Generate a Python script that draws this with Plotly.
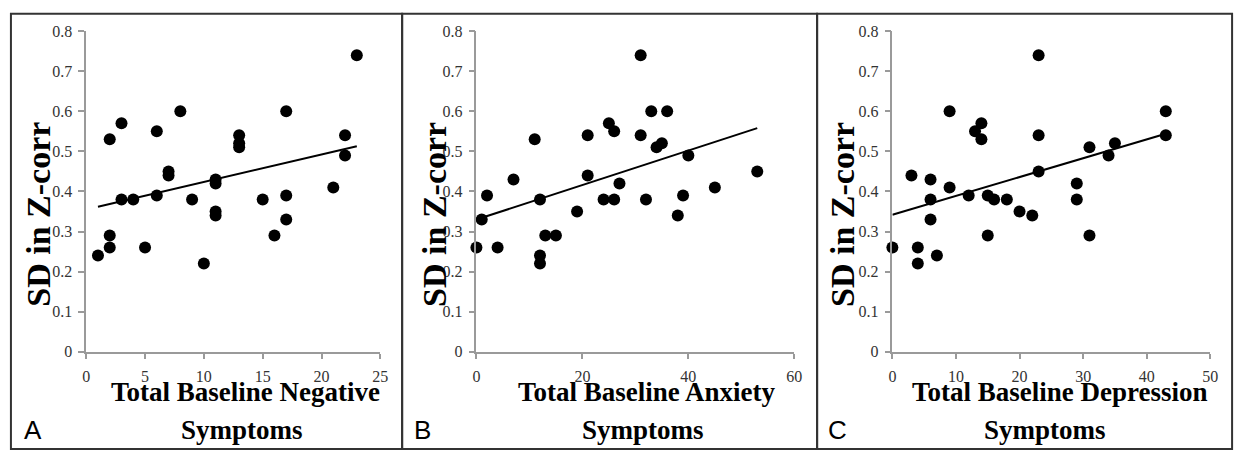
import plotly.graph_objects as go

# ---------------- data ----------------
neg_x = [1, 2, 2, 2, 3, 3, 4, 5, 6, 6, 7, 7, 8, 9, 10, 11, 11, 11, 11, 13, 13, 13, 15, 16, 17, 17, 17, 21, 22, 22, 23]
neg_y = [0.24, 0.53, 0.29, 0.26, 0.57, 0.38, 0.38, 0.26, 0.55, 0.39, 0.45, 0.44, 0.60, 0.38, 0.22, 0.43, 0.42, 0.35, 0.34,
         0.54, 0.52, 0.51, 0.38, 0.29, 0.60, 0.39, 0.33, 0.41, 0.54, 0.49, 0.74]
neg_trend_x = [1, 23]
neg_trend_y = [0.362, 0.513]

anx_x = [0, 1, 2, 4, 7, 11, 12, 12, 12, 13, 15, 19, 21, 21, 24, 25, 26, 26, 27, 31, 31, 32, 33, 34, 35, 36, 38, 39, 40, 45, 53]
anx_y = [0.26, 0.33, 0.39, 0.26, 0.43, 0.53, 0.38, 0.24, 0.22, 0.29, 0.29, 0.35, 0.54, 0.44, 0.38, 0.57, 0.55, 0.38, 0.42,
         0.74, 0.54, 0.38, 0.60, 0.51, 0.52, 0.60, 0.34, 0.39, 0.49, 0.41, 0.45]
anx_trend_x = [0, 53]
anx_trend_y = [0.330, 0.558]

dep_x = [0, 3, 4, 4, 6, 6, 6, 7, 9, 9, 12, 13, 14, 14, 15, 15, 16, 18, 20, 22, 23, 23, 23, 29, 29, 31, 31, 34, 35, 43, 43]
dep_y = [0.26, 0.44, 0.26, 0.22, 0.43, 0.38, 0.33, 0.24, 0.60, 0.41, 0.39, 0.55, 0.57, 0.53, 0.39, 0.29, 0.38, 0.38, 0.35,
         0.34, 0.74, 0.54, 0.45, 0.42, 0.38, 0.51, 0.29, 0.49, 0.52, 0.60, 0.54]
dep_trend_x = [0, 43]
dep_trend_y = [0.342, 0.544]

x_ranges = [25, 60, 50]
x_dtick = [5, 20, 10]
y_ticks = [0, 0.1, 0.2, 0.3, 0.4, 0.5, 0.6, 0.7, 0.8]
x_title_line1 = ["Total Baseline Negative", "Total Baseline Anxiety", "Total Baseline Depression"]
x_title_line2 = ["Symptoms", "Symptoms", "Symptoms"]
y_title = "SD in Z-corr"
panel_letters = ["A", "B", "C"]

# ---------------- layout helpers ----------------
W, H = 1249, 460
def fx(px):
    return px / W
def fy(py):
    return 1 - py / H

x_pix = [(83, 380), (477, 798), (897, 1218)]
y_pix = (24, 357)
ytitle_x = [34, 434, 846]
xtitle1_x = [244, 649, 1066]
xtitle2_x = [240, 645, 1051]
letter_x = [29, 423, 842]
boxes = [(7, 402), (402, 821), (821, 1240)]
box_top, box_bottom = 6, 458

series = [(neg_x, neg_y, neg_trend_x, neg_trend_y),
          (anx_x, anx_y, anx_trend_x, anx_trend_y),
          (dep_x, dep_y, dep_trend_x, dep_trend_y)]

fig = go.Figure()
serif = "Liberation Serif"
layout = dict(
    width=W, height=H, margin=dict(l=0, r=0, t=0, b=0),
    paper_bgcolor="white", plot_bgcolor="white", showlegend=False,
)
annotations = []
shapes = []
for i, (sx, sy, tx, ty) in enumerate(series):
    n = i + 1
    xa = "x" if n == 1 else f"x{n}"
    ya = "y" if n == 1 else f"y{n}"
    fig.add_trace(go.Scatter(x=tx, y=ty, mode="lines", line=dict(color="black", width=2),
                             xaxis=xa, yaxis=ya, hoverinfo="skip"))
    fig.add_trace(go.Scatter(x=sx, y=sy, mode="markers", cliponaxis=False,
                             marker=dict(color="black", size=12, line=dict(width=0)),
                             xaxis=xa, yaxis=ya))
    axkey_x = "xaxis" if n == 1 else f"xaxis{n}"
    axkey_y = "yaxis" if n == 1 else f"yaxis{n}"
    layout[axkey_x] = dict(
        domain=[fx(x_pix[i][0]), fx(x_pix[i][1])], range=[0, x_ranges[i]],
        dtick=x_dtick[i], tick0=0, anchor=ya, showgrid=False, zeroline=False,
        showline=True, linecolor="#9a9a9a", linewidth=1.5,
        ticks="outside", ticklen=5, tickcolor="#9a9a9a", tickwidth=1.5,
        ticklabelstandoff=4,
        tickfont=dict(family=serif, size=16, color="#333333"),
    )
    layout[axkey_y] = dict(
        domain=[fy(y_pix[1]), fy(y_pix[0])], range=[0, 0.8],
        tickvals=y_ticks, ticktext=[("%g" % v) for v in y_ticks], anchor=xa,
        showgrid=False, zeroline=False,
        showline=True, linecolor="#9a9a9a", linewidth=1.5,
        ticks="outside", ticklen=6, tickcolor="#9a9a9a", tickwidth=1.5,
        ticklabelstandoff=3,
        tickfont=dict(family=serif, size=16, color="#333333"),
    )
    annotations.append(dict(text=f"<b>{y_title}</b>", textangle=-90, xref="paper", yref="paper",
                            x=fx(ytitle_x[i]), y=fy(214), xanchor="center", yanchor="middle",
                            showarrow=False, font=dict(family=serif, size=34, color="black")))
    annotations.append(dict(text=f"<b>{x_title_line1[i]}</b>", xref="paper", yref="paper",
                            x=fx(xtitle1_x[i]), y=fy(399), xanchor="center", yanchor="middle",
                            showarrow=False, font=dict(family=serif, size=27, color="black")))
    annotations.append(dict(text=f"<b>{x_title_line2[i]}</b>", xref="paper", yref="paper",
                            x=fx(xtitle2_x[i]), y=fy(438), xanchor="center", yanchor="middle",
                            showarrow=False, font=dict(family=serif, size=27, color="black")))
    annotations.append(dict(text=panel_letters[i], xref="paper", yref="paper",
                            x=fx(letter_x[i]), y=fy(438), xanchor="center", yanchor="middle",
                            showarrow=False, font=dict(family="Liberation Sans", size=26, color="black")))
    shapes.append(dict(type="rect", xref="paper", yref="paper",
                       x0=fx(boxes[i][0]), x1=fx(boxes[i][1]), y0=fy(box_bottom), y1=fy(box_top),
                       line=dict(color="#333333", width=2), fillcolor="rgba(0,0,0,0)", layer="below"))

layout["annotations"] = annotations
layout["shapes"] = shapes
fig.update_layout(**layout)
fig.write_html("out.html", config={"displayModeBar": False},
               post_script="document.body.style.margin='0';document.body.style.overflow='hidden';")
